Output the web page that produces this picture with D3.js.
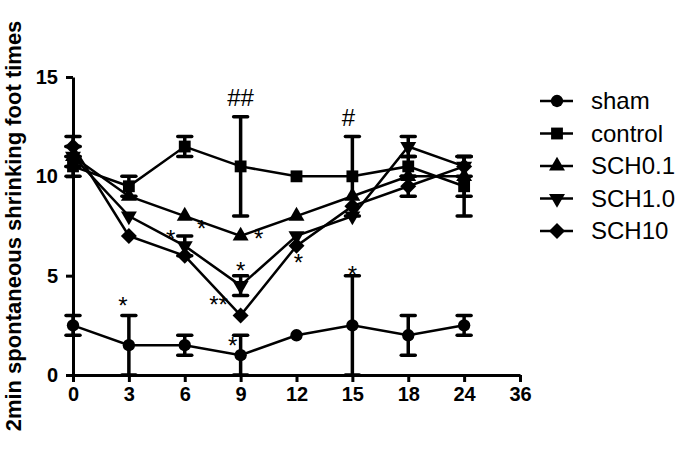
<!DOCTYPE html>
<meta charset="utf-8">
<script src="https://cdn.jsdelivr.net/npm/d3@7"></script>
<style>
body { margin: 0; background: #fff; }
svg { display: block; font-family: "Liberation Sans", Arial, sans-serif; }
.axis path, .axis line { stroke: #000; stroke-width: 3; }
.axis text { font-size: 20px; font-weight: bold; fill: #000; }
</style>
<body>
<script>

var width = 675
var height = 453

// time points (h) and tick labels
var times = ['0', '3', '6', '9', '12', '15', '18', '24']
var tickLabels = ['0', '3', '6', '9', '12', '15', '18', '24', '36']
var yTicks = [0, 5, 10, 15]

var sham       = [2.5, 1.5, 1.5, 1, 2, 2.5, 2, 2.5]
var shamErr    = [0.5, 1.5, 0.5, 1, 0, 2.5, 1, 0.5]
var control    = [10.5, 9.5, 11.5, 10.5, 10, 10, 10.5, 9.5]
var controlErr = [0.5, 0.5, 0.5, 2.5, 0, 2, 0.5, 1.5]
var sch01      = [11, 9, 8, 7, 8, 9, 10, 10]
var sch01Err   = [0.5, 0, 0, 0, 0, 0, 0, 1]
var sch10a     = [11, 8, 6.5, 4.5, 7, 8, 11.5, 10.5]
var sch10aErr  = [0.5, 0, 0.5, 0.5, 0, 0, 0.5, 0]
var sch10      = [11.5, 7, 6, 3, 6.5, 8.5, 9.5, 10.5]
var sch10Err   = [0.5, 0, 0, 0, 0, 0, 0.5, 0.5]

var seriesNames = ['sham', 'control', 'SCH0.1', 'SCH1.0', 'SCH10']
var seriesVals  = [sham, control, sch01, sch10a, sch10]
var seriesErrs  = [shamErr, controlErr, sch01Err, sch10aErr, sch10Err]
var seriesSym   = ['circle', 'square', 'up', 'down', 'diamond']

// significance marks: [time, value, text, px offset]
var marks = [
  ['9', 14.2, '##', 0],
  ['15', 13.2, '#', -4],
  ['3', 3.7, '*', -6],
  ['6', 7.1, '*', -14],
  ['6', 7.6, '*', 17],
  ['9', 7.1, '*', 18],
  ['9', 5.5, '*', 0],
  ['9', 3.8, '**', -22],
  ['9', 1.7, '*', -8],
  ['12', 5.9, '*', 2],
  ['15', 5.3, '*', 0]
]

var svg = d3.select('body').append('svg')
    .attr('width', width)
    .attr('height', height)

var x = d3.scalePoint().domain(tickLabels).range([73, 520])
var y = d3.scaleLinear().domain([0, 15]).range([375, 77])

svg.append('g')
    .attr('class', 'axis')
    .attr('transform', 'translate(0,375)')
    .call(d3.axisBottom(x).tickSize(7).tickSizeOuter(0).tickPadding(5))

svg.append('g')
    .attr('class', 'axis')
    .attr('transform', 'translate(73,0)')
    .call(d3.axisLeft(y).tickValues(yTicks).tickSize(7).tickSizeOuter(0).tickPadding(8))

svg.append('text')
    .attr('transform', 'translate(21,226) rotate(-90)')
    .attr('text-anchor', 'middle')
    .style('font-size', '22px')
    .style('font-weight', 'bold')
    .text('2min spontaneous shrinking foot times')

function symbolPath(kind) {
  if (kind == 'circle') return d3.symbol(d3.symbolCircle, 120)()
  if (kind == 'square') return d3.symbol(d3.symbolSquare, 140)()
  if (kind == 'diamond') return 'M0,-8L8,0L0,8L-8,0Z'
  return d3.symbol(d3.symbolTriangle, 110)()
}

function drawSymbol(g, kind, px, py) {
  g.append('path')
      .attr('d', symbolPath(kind))
      .attr('transform', 'translate(' + px + ',' + py + ')' + (kind == 'down' ? ' rotate(180)' : ''))
      .attr('fill', '#000')
}

var line = d3.line()
    .x(function(d, i) { return x(times[i]) })
    .y(function(d) { return y(d) })

var plot = svg.append('g')

seriesVals.forEach(function(vals) {
  plot.append('path')
      .attr('d', line(vals))
      .attr('fill', 'none')
      .attr('stroke', '#000')
      .attr('stroke-width', 2.5)
})

seriesVals.forEach(function(vals, s) {
  vals.forEach(function(v, i) {
    var e = seriesErrs[s][i]
    if (!e) return
    var cx = x(times[i])
    plot.append('line')
        .attr('x1', cx).attr('x2', cx)
        .attr('y1', y(v - e)).attr('y2', y(v + e))
        .attr('stroke', '#000').attr('stroke-width', 3.5)
    ;[v - e, v + e].forEach(function(c) {
      plot.append('line')
          .attr('x1', cx - 7).attr('x2', cx + 7)
          .attr('y1', y(c)).attr('y2', y(c))
          .attr('stroke', '#000').attr('stroke-width', 3.5)
          .attr('stroke-linecap', 'round')
    })
  })
})

seriesVals.forEach(function(vals, s) {
  vals.forEach(function(v, i) {
    drawSymbol(plot, seriesSym[s], x(times[i]), y(v))
  })
})

svg.append('g').selectAll('text')
    .data(marks)
    .enter().append('text')
      .attr('x', function(d) { return x(d[0]) + d[3] })
      .attr('y', function(d) { return y(d[1]) + 13 })
      .attr('text-anchor', 'middle')
      .style('font-size', '24px')
      .text(function(d) { return d[2] })

// legend
var legend = svg.append('g')
seriesNames.forEach(function(name, s) {
  var ly = 101 + s * 32.5
  legend.append('line')
      .attr('x1', 540).attr('x2', 573)
      .attr('y1', ly).attr('y2', ly)
      .attr('stroke', '#000').attr('stroke-width', 2.5)
  drawSymbol(legend, seriesSym[s], 557, ly)
  legend.append('text')
      .attr('x', 591).attr('y', ly)
      .attr('dy', '0.35em')
      .style('font-size', '24px')
      .text(name)
})

</script>
</body>
